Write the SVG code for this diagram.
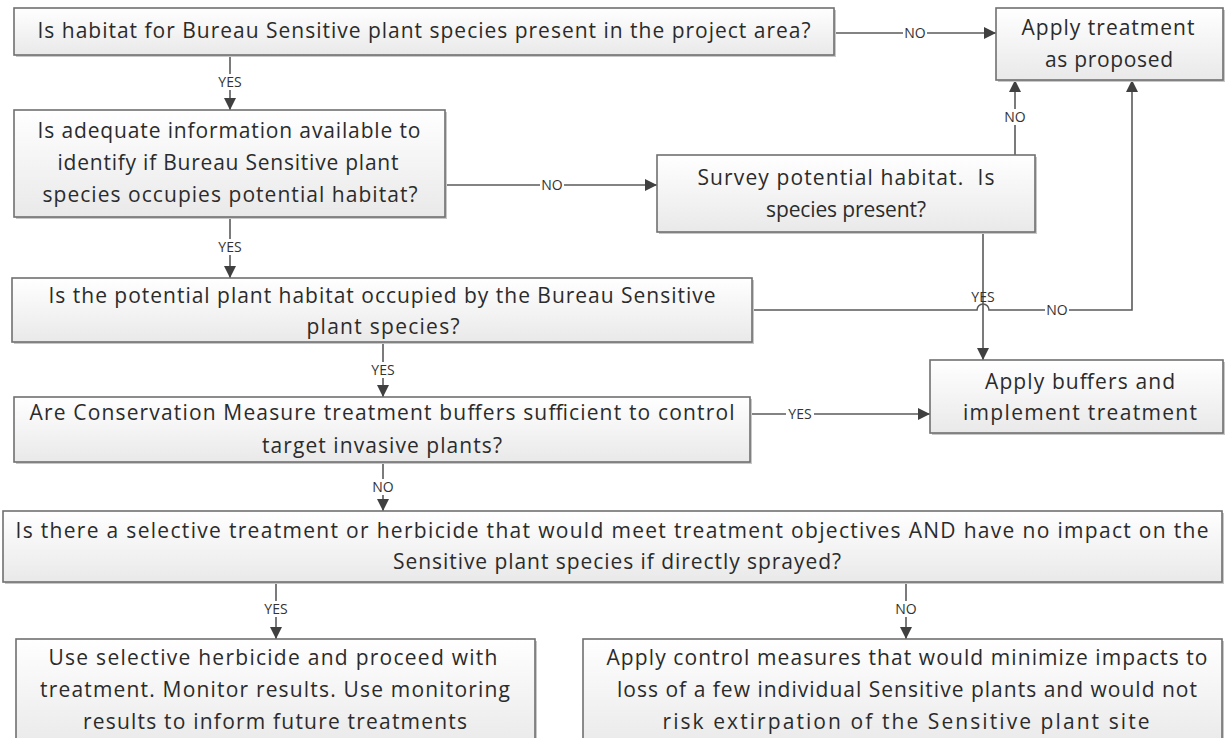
<svg xmlns="http://www.w3.org/2000/svg" width="1225" height="738" viewBox="0 0 1225 738">
<defs>
<linearGradient id="g" x1="0" y1="0" x2="0" y2="1">
<stop offset="0" stop-color="#ffffff"/>
<stop offset="1" stop-color="#e9e9e9"/>
</linearGradient>
<marker id="ah" viewBox="0 0 12 12" refX="12" refY="6" markerWidth="12" markerHeight="12" markerUnits="userSpaceOnUse" orient="auto">
<path d="M0,0 L12,6 L0,12 z" fill="#404040"/>
</marker>
</defs>
<style>
.box{fill:url(#g);stroke:#707070;stroke-width:1.6}
.sh{fill:#c8c8c8}
.t{font-family:"Open Sans","Liberation Sans",sans-serif;font-size:21px;fill:#2b2b2b;text-anchor:middle}
.c{fill:none;stroke:#5a5a5a;stroke-width:1.6}
.lb{font-family:"Open Sans","Liberation Sans",sans-serif;font-size:14px;fill:#333;text-anchor:middle}
.bg{fill:#ffffff}
</style>
<rect width="1225" height="738" fill="#ffffff"/>

<g id="connectors">
<path class="c" d="M834,33 H996" marker-end="url(#ah)"/>
<path class="c" d="M230,55 V110" marker-end="url(#ah)"/>
<path class="c" d="M445,185 H657" marker-end="url(#ah)"/>
<path class="c" d="M230,217 V278" marker-end="url(#ah)"/>
<path class="c" d="M1015,155 V80" marker-end="url(#ah)"/>
<path class="c" d="M983,232 V360" marker-end="url(#ah)"/>
<path class="c" d="M752,310 H977 A6,6 0 0 1 989,310 H1132 V80" marker-end="url(#ah)"/>
<path class="c" d="M383,342 V397" marker-end="url(#ah)"/>
<path class="c" d="M750,414 H930" marker-end="url(#ah)"/>
<path class="c" d="M383,462 V511" marker-end="url(#ah)"/>
<path class="c" d="M276,582 V639" marker-end="url(#ah)"/>
<path class="c" d="M906,582 V639" marker-end="url(#ah)"/>

<rect class="bg" x="903" y="26" width="24" height="14"/><text class="lb" x="915" y="38">NO</text>
<rect class="bg" x="216" y="74" width="28" height="16"/><text class="lb" x="230" y="87">YES</text>
<rect class="bg" x="540" y="178" width="24" height="14"/><text class="lb" x="552" y="190">NO</text>
<rect class="bg" x="216" y="239" width="28" height="16"/><text class="lb" x="230" y="252">YES</text>
<rect class="bg" x="1002" y="109" width="26" height="16"/><text class="lb" x="1015" y="122">NO</text>
<text class="lb" x="983" y="302">YES</text>
<rect class="bg" x="1045" y="303" width="24" height="14"/><text class="lb" x="1057" y="315">NO</text>
<rect class="bg" x="369" y="362" width="28" height="16"/><text class="lb" x="383" y="375">YES</text>
<rect class="bg" x="786" y="407" width="28" height="14"/><text class="lb" x="800" y="419">YES</text>
<rect class="bg" x="370" y="479" width="26" height="16"/><text class="lb" x="383" y="492">NO</text>
<rect class="bg" x="262" y="601" width="28" height="16"/><text class="lb" x="276" y="614">YES</text>
<rect class="bg" x="893" y="601" width="26" height="16"/><text class="lb" x="906" y="614">NO</text>
</g>

<g id="n1">
<rect class="sh" x="16" y="10" width="820" height="47"/>
<rect class="box" x="14" y="8" width="820" height="47"/>
<text class="t" x="424" y="38" textLength="773">Is habitat for Bureau Sensitive plant species present in the project area?</text>
</g>

<g id="n_apply">
<rect class="sh" x="998" y="10" width="227" height="72"/>
<rect class="box" x="996" y="8" width="227" height="72"/>
<text class="t" x="1108" y="35" textLength="173">Apply treatment</text>
<text class="t" x="1109" y="67" textLength="128">as proposed</text>
</g>

<g id="n2">
<rect class="sh" x="16" y="112" width="431" height="107"/>
<rect class="box" x="14" y="110" width="431" height="107"/>
<text class="t" x="229" y="138" textLength="383">Is adequate information available to</text>
<text class="t" x="228" y="170" textLength="341">identify if Bureau Sensitive plant</text>
<text class="t" x="230" y="202" textLength="375">species occupies potential habitat?</text>
</g>

<g id="n_survey">
<rect class="sh" x="659" y="157" width="378" height="77"/>
<rect class="box" x="657" y="155" width="378" height="77"/>
<text class="t" x="846" y="185" textLength="297">Survey potential habitat.&#160; Is</text>
<text class="t" x="846" y="217" textLength="160">species present?</text>
</g>

<g id="n3">
<rect class="sh" x="14" y="280" width="740" height="64"/>
<rect class="box" x="12" y="278" width="740" height="64"/>
<text class="t" x="382" y="303" textLength="667">Is the potential plant habitat occupied by the Bureau Sensitive</text>
<text class="t" x="383" y="334" textLength="153">plant species?</text>
</g>

<g id="n_buffers">
<rect class="sh" x="932" y="362" width="293" height="73"/>
<rect class="box" x="930" y="360" width="293" height="73"/>
<text class="t" x="1080" y="389" textLength="190">Apply buffers and</text>
<text class="t" x="1080" y="420" textLength="234">implement treatment</text>
</g>

<g id="n4">
<rect class="sh" x="16" y="399" width="736" height="65"/>
<rect class="box" x="14" y="397" width="736" height="65"/>
<text class="t" x="382" y="420" textLength="705">Are Conservation Measure treatment buffers sufficient to control</text>
<text class="t" x="382" y="453" textLength="240">target invasive plants?</text>
</g>

<g id="n5">
<rect class="sh" x="5" y="513" width="1219" height="71"/>
<rect class="box" x="3" y="511" width="1219" height="71"/>
<text class="t" x="612" y="538" textLength="1193">Is there a selective treatment or herbicide that would meet treatment objectives AND have no impact on the</text>
<text class="t" x="617" y="569" textLength="448">Sensitive plant species if directly sprayed?</text>
</g>

<g id="n6">
<rect class="sh" x="18" y="641" width="519" height="110"/>
<rect class="box" x="16" y="639" width="519" height="110"/>
<text class="t" x="273" y="665" textLength="449">Use selective herbicide and proceed with</text>
<text class="t" x="275" y="697" textLength="470">treatment. Monitor results. Use monitoring</text>
<text class="t" x="275" y="729" textLength="384">results to inform future treatments</text>
</g>

<g id="n7">
<rect class="sh" x="585" y="641" width="639" height="110"/>
<rect class="box" x="583" y="639" width="639" height="110"/>
<text class="t" x="907" y="665" textLength="601">Apply control measures that would minimize impacts to</text>
<text class="t" x="907" y="697" textLength="580">loss of a few individual Sensitive plants and would not</text>
<text class="t" x="906" y="729" textLength="487">risk extirpation of the Sensitive plant site</text>
</g>
</svg>
